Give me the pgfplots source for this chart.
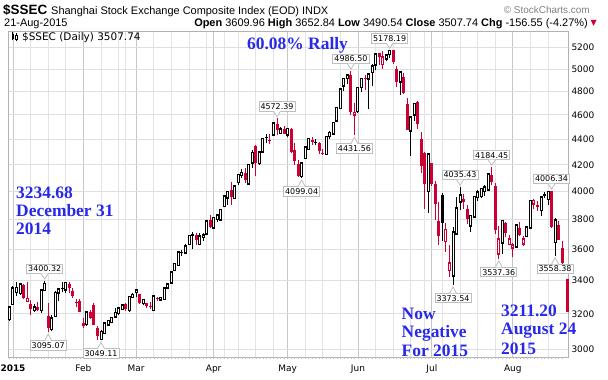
\documentclass[border=0pt]{standalone}
\usepackage{pgfplots}
\pgfplotsset{compat=1.18}
\usepackage{fontspec}
\setmainfont{Liberation Sans}
\newfontfamily\dejavu{DejaVu Sans}
\newfontfamily\tms{Liberation Serif}
\definecolor{cred}{RGB}{204,0,51}
\definecolor{ablue}{RGB}{40,40,232}
\definecolor{tagline}{RGB}{190,190,190}
\pgfplotsset{
 wk/.style={draw=black, line width=1bp},
 wr/.style={draw=cred, line width=1bp},
 hbk/.style={draw=black, line width=3bp, line cap=rect},
 hbr/.style={draw=cred, line width=3bp, line cap=rect},
 fbk/.style={draw=black, line width=3bp, line cap=butt},
 fbr/.style={draw=cred, line width=3bp, line cap=butt},
 hin/.style={draw=white, line width=1bp, line cap=butt},
}
\tikzset{
 tag/.style={draw=tagline, fill=white, line width=0.8bp, font=\dejavu\fontsize{8}{9}\selectfont, inner xsep=1.6bp, inner ysep=1.8bp, text height=6bp, text depth=0bp},
 txt/.style={inner sep=0pt},
 bl/.style={txt, anchor=base west, font=\tms\bfseries\fontsize{17.5}{18}\selectfont, text=ablue},
}
% candles: x, open, high, low, close
\newcommand\kU[5]{\addplot[wk] coordinates {(#1,#4) (#1,#3)};\addplot[hbk] coordinates {(#1,#2) (#1,#5)};\addplot[hin] coordinates {(#1,#2) (#1,#5)};}
\newcommand\kR[5]{\addplot[wr] coordinates {(#1,#4) (#1,#3)};\addplot[hbr] coordinates {(#1,#2) (#1,#5)};\addplot[hin] coordinates {(#1,#2) (#1,#5)};}
\newcommand\kB[5]{\addplot[wk] coordinates {(#1,#4) (#1,#3)};\addplot[fbk] coordinates {(#1,#2) (#1,#5)};}
\newcommand\kD[5]{\addplot[wr] coordinates {(#1,#4) (#1,#3)};\addplot[fbr] coordinates {(#1,#2) (#1,#5)};}
\newcommand\hlab[2]{%
 \coordinate (q) at (axis cs:#1,#2);
 \node[tag, anchor=south] at ([yshift=6.5bp]q) {#2};
 \fill[white] ([xshift=-3.5bp,yshift=7.1bp]q) -- ([yshift=1.5bp]q) -- ([xshift=3.5bp,yshift=7.1bp]q) -- cycle;
 \draw[tagline, line width=0.8bp] ([xshift=-3.5bp,yshift=6.9bp]q) -- ([yshift=1.5bp]q) -- ([xshift=3.5bp,yshift=6.9bp]q);
}
\newcommand\llab[2]{%
 \coordinate (q) at (axis cs:#1,#2);
 \node[tag, anchor=north] at ([yshift=-8bp]q) {#2};
 \fill[white] ([xshift=-3.5bp,yshift=-8.6bp]q) -- ([yshift=-2bp]q) -- ([xshift=3.5bp,yshift=-8.6bp]q) -- cycle;
 \draw[tagline, line width=0.8bp] ([xshift=-3.5bp,yshift=-8.4bp]q) -- ([yshift=-2bp]q) -- ([xshift=3.5bp,yshift=-8.4bp]q);
}
\begin{document}
\begin{tikzpicture}
\path[use as bounding box] (0,0) rectangle (608bp,380bp);
\begin{axis}[
  at={(8bp,23bp)}, anchor=south west,
  scale only axis, width=560bp, height=326bp,
  xmin=-1.42, xmax=157.67,
  ymode=log, ymin=2958, ymax=5361,
  clip=false,
  axis line style={draw=gray!60, line width=0.8bp},
  ytick={3000,3200,3400,3600,3800,4000,4200,4400,4600,4800,5000,5200},
  yticklabels={3000,3200,3400,3600,3800,4000,4200,4400,4600,4800,5000,5200},
  xtick pos=left, ytick pos=right, yticklabel pos=right,
  xtick={0,20,35,57,78,98,119,142},
  xticklabels={\textbf{2015},Feb,Mar,Apr,May,Jun,Jul,Aug},
  minor xtick={5,10,15,25,30,32,40,45,50,55,60,64,69,74,83,88,93,103,108,113,117,122,127,132,137,147,152},
  xmajorgrids=true, xminorgrids=true, ymajorgrids=true,
  major x grid style={draw=gray!45, line width=0.8bp},
  minor x grid style={draw=gray!22, line width=0.8bp},
  major y grid style={draw=gray!25, line width=0.8bp},
  major tick length=0pt, minor tick length=0pt, tick align=outside,
  ticklabel style={font=\dejavu\fontsize{9}{10}\selectfont},
  xticklabel style={anchor=base, yshift=-15bp},
  extra x ticks={-1,0,...,156}, extra x tick labels={},
  extra x tick style={grid=none, major tick length=2bp, tick style={draw=gray!50, line width=0.6bp}},
]
\kU{-1}{3172.56}{3239.36}{3157.56}{3234.68}
\kU{0}{3258.63}{3369.28}{3253.88}{3350.52}
\kU{1}{3330.80}{3394.22}{3303.18}{3351.45}
\kU{2}{3326.65}{3374.90}{3312.21}{3373.95}
\kD{3}{3371.96}{3381.57}{3285.09}{3293.46}
\kR{4}{3276.97}{3390.00}{3267.51}{3285.41}
\kD{5}{3258.21}{3282.27}{3191.26}{3229.32}
\kU{6}{3223.54}{3259.39}{3207.94}{3235.30}
\kD{7}{3242.34}{3268.48}{3214.28}{3222.44}
\kU{8}{3224.07}{3336.64}{3207.55}{3336.45}
\kU{9}{3343.60}{3400.32}{3340.80}{3376.50}
\kD{10}{3189.73}{3262.21}{3095.07}{3116.35}
\kU{11}{3114.56}{3190.25}{3100.48}{3173.05}
\kU{12}{3189.08}{3337.00}{3188.63}{3323.61}
\kU{13}{3327.32}{3352.37}{3273.31}{3343.34}
\kB{14}{3357.10}{3390.00}{3328.29}{3351.76}
\kU{15}{3347.26}{3390.00}{3321.00}{3383.18}
\kD{16}{3377.00}{3391.00}{3325.00}{3352.96}
\kD{17}{3337.00}{3354.00}{3295.00}{3305.74}
\kD{18}{3270.00}{3286.00}{3238.00}{3262.30}
\kD{19}{3273.00}{3288.00}{3209.00}{3210.36}
\kD{20}{3148.00}{3174.00}{3116.00}{3128.30}
\kU{21}{3142.00}{3207.00}{3131.00}{3204.91}
\kD{22}{3212.00}{3223.00}{3171.00}{3174.13}
\kD{23}{3254.00}{3263.00}{3133.00}{3136.53}
\kD{24}{3120.00}{3130.00}{3052.00}{3075.91}
\kU{25}{3059.00}{3105.00}{3049.11}{3095.12}
\kU{26}{3092.00}{3142.00}{3083.00}{3141.59}
\kU{27}{3140.00}{3166.00}{3138.00}{3157.70}
\kU{28}{3155.00}{3180.00}{3145.00}{3173.42}
\kU{29}{3186.00}{3237.00}{3181.00}{3203.83}
\kU{30}{3206.00}{3235.00}{3195.00}{3228.84}
\kU{31}{3231.00}{3250.00}{3226.00}{3246.91}
\kD{32}{3257.00}{3261.00}{3214.00}{3228.84}
\kU{33}{3224.00}{3301.00}{3210.00}{3298.36}
\kU{34}{3300.00}{3324.00}{3294.00}{3310.30}
\kU{35}{3332.00}{3344.00}{3298.00}{3336.28}
\kD{36}{3317.00}{3318.00}{3260.00}{3263.05}
\kU{37}{3264.00}{3286.00}{3250.00}{3279.53}
\kD{38}{3264.00}{3266.00}{3234.00}{3248.48}
\kD{39}{3249.00}{3270.00}{3231.00}{3241.19}
\kU{40}{3225.00}{3304.00}{3215.00}{3302.41}
\kD{41}{3292.00}{3300.00}{3276.00}{3286.07}
\kU{42}{3287.00}{3300.00}{3278.00}{3290.90}
\kU{43}{3290.00}{3352.00}{3283.00}{3349.32}
\kU{44}{3360.00}{3384.00}{3348.00}{3372.91}
\kU{45}{3391.00}{3452.00}{3382.00}{3449.30}
\kU{46}{3467.00}{3504.00}{3459.00}{3502.85}
\kU{47}{3501.00}{3578.00}{3492.00}{3577.30}
\kB{48}{3584.00}{3598.00}{3556.00}{3582.27}
\kU{49}{3580.00}{3632.00}{3568.00}{3617.32}
\kU{50}{3638.00}{3688.00}{3628.00}{3687.73}
\kB{51}{3701.00}{3715.00}{3600.00}{3691.41}
\kD{52}{3692.00}{3706.00}{3627.00}{3660.73}
\kU{53}{3638.00}{3705.00}{3629.00}{3682.09}
\kU{54}{3686.00}{3709.00}{3654.00}{3691.10}
\kU{55}{3708.00}{3795.00}{3708.00}{3786.57}
\kD{56}{3800.00}{3835.00}{3743.00}{3747.90}
\kU{57}{3748.00}{3817.00}{3743.00}{3810.29}
\kU{58}{3805.00}{3835.00}{3785.00}{3825.78}
\kU{59}{3803.00}{3865.00}{3800.00}{3863.93}
\kU{60}{3899.00}{3961.00}{3899.00}{3961.38}
\kU{61}{3960.00}{4000.00}{3900.00}{3994.81}
\kD{62}{4009.00}{4069.00}{3904.00}{3957.53}
\kU{63}{3956.00}{4034.00}{3950.00}{4034.31}
\kU{64}{4072.00}{4128.00}{4049.00}{4121.71}
\kU{65}{4123.00}{4168.00}{4099.00}{4135.56}
\kD{66}{4139.00}{4175.00}{4062.00}{4084.16}
\kU{67}{4060.00}{4195.00}{4046.00}{4194.82}
\kU{68}{4218.00}{4317.00}{4172.00}{4287.30}
\kD{69}{4344.00}{4356.00}{4115.00}{4217.08}
\kU{70}{4214.00}{4302.00}{4200.00}{4293.62}
\kU{71}{4304.00}{4398.00}{4296.00}{4398.49}
\kB{72}{4421.00}{4444.00}{4367.00}{4414.51}
\kD{73}{4395.00}{4440.00}{4359.00}{4393.69}
\kU{74}{4441.00}{4529.00}{4441.00}{4527.40}
\kD{75}{4528.00}{4572.39}{4432.00}{4476.21}
\kU{76}{4453.00}{4499.00}{4441.00}{4476.62}
\kD{77}{4483.00}{4507.00}{4441.00}{4441.66}
\kU{78}{4441.00}{4488.00}{4414.00}{4480.46}
\kD{79}{4479.00}{4489.00}{4293.00}{4298.71}
\kD{80}{4314.00}{4370.00}{4195.00}{4229.27}
\kD{81}{4204.00}{4238.00}{4104.00}{4112.21}
\kU{82}{4115.00}{4216.00}{4099.04}{4205.92}
\kU{83}{4254.00}{4337.00}{4248.00}{4333.58}
\kU{84}{4323.00}{4401.00}{4322.00}{4401.22}
\kD{85}{4395.00}{4414.00}{4355.00}{4375.76}
\kB{86}{4380.00}{4404.00}{4354.00}{4378.31}
\kD{87}{4370.00}{4377.00}{4285.00}{4308.69}
\kD{88}{4291.00}{4319.00}{4275.00}{4283.49}
\kU{89}{4286.00}{4418.00}{4283.00}{4417.55}
\kU{90}{4426.00}{4470.00}{4404.00}{4446.29}
\kU{91}{4449.00}{4529.00}{4431.00}{4529.42}
\kU{92}{4557.00}{4658.00}{4553.00}{4657.60}
\kU{93}{4660.00}{4814.00}{4660.00}{4813.80}
\kU{94}{4854.00}{4911.00}{4802.00}{4910.90}
\kU{95}{4920.00}{4958.00}{4866.00}{4941.71}
\kD{96}{4943.00}{4986.50}{4595.00}{4620.27}
\kR{97}{4603.00}{4698.00}{4431.56}{4611.74}
\kU{98}{4633.00}{4829.00}{4616.00}{4828.74}
\kU{99}{4844.00}{4911.00}{4797.00}{4910.53}
\kD{100}{4924.00}{4951.00}{4811.00}{4909.98}
\kU{101}{4916.00}{4947.00}{4647.00}{4947.10}
\kU{102}{4976.00}{5051.00}{4853.00}{5023.10}
\kU{103}{5045.00}{5147.00}{4988.00}{5131.88}
\kD{104}{5145.00}{5147.00}{5038.00}{5113.53}
\kR{105}{5049.00}{5164.00}{5001.00}{5106.04}
\kU{106}{5101.00}{5130.00}{5071.00}{5121.59}
\kU{107}{5143.00}{5178.19}{5100.00}{5166.35}
\kD{108}{5174.00}{5176.00}{5048.00}{5062.99}
\kD{109}{5004.00}{5029.00}{4842.00}{4887.43}
\kU{110}{4890.00}{4985.00}{4767.00}{4967.90}
\kD{111}{4930.00}{4967.00}{4782.00}{4785.36}
\kD{112}{4689.00}{4744.00}{4476.00}{4478.36}
\kU{113}{4471.00}{4577.00}{4264.00}{4576.49}
\kU{114}{4605.00}{4691.00}{4552.00}{4690.15}
\kD{115}{4711.00}{4720.00}{4483.00}{4527.78}
\kD{116}{4399.00}{4456.00}{4139.00}{4192.87}
\kD{117}{4289.00}{4297.00}{3875.00}{4053.03}
\kU{118}{4006.00}{4287.00}{3847.00}{4277.22}
\kD{119}{4214.00}{4214.00}{4043.00}{4053.70}
\kD{120}{4058.00}{4080.00}{3795.00}{3912.77}
\kD{121}{3793.00}{3927.00}{3629.00}{3686.92}
\kB{122}{3975.00}{3990.00}{3653.00}{3775.91}
\kR{123}{3655.00}{3780.00}{3581.00}{3727.12}
\kR{124}{3467.00}{3629.00}{3421.00}{3507.19}
\kU{125}{3433.00}{3748.00}{3373.54}{3709.33}
\kU{126}{3707.00}{3959.00}{3707.00}{3877.80}
\kU{127}{3930.00}{4035.43}{3870.00}{3970.39}
\kD{128}{3947.00}{3981.00}{3878.00}{3924.49}
\kD{129}{3878.00}{3907.00}{3767.00}{3805.70}
\kU{130}{3760.00}{3836.00}{3712.00}{3823.18}
\kU{131}{3823.00}{3959.00}{3823.00}{3957.35}
\kU{132}{3961.00}{4013.00}{3930.00}{3992.11}
\kU{133}{3971.00}{4026.00}{3950.00}{4017.67}
\kU{134}{4005.00}{4047.00}{3970.00}{4026.04}
\kU{135}{4017.00}{4132.00}{4006.00}{4123.92}
\kD{136}{4125.00}{4184.45}{4044.00}{4070.91}
\kD{137}{4041.00}{4062.00}{3701.00}{3725.56}
\kR{138}{3573.00}{3757.00}{3537.36}{3663.00}
\kU{139}{3645.00}{3792.00}{3567.00}{3789.17}
\kD{140}{3778.00}{3785.00}{3679.00}{3705.77}
\kR{141}{3637.00}{3695.00}{3629.00}{3663.73}
\kR{142}{3614.00}{3640.00}{3549.00}{3622.91}
\kU{143}{3621.00}{3757.00}{3610.00}{3756.54}
\kD{144}{3745.00}{3782.00}{3688.00}{3694.57}
\kR{145}{3640.00}{3690.00}{3621.00}{3661.54}
\kU{146}{3690.00}{3750.00}{3686.00}{3744.20}
\kU{147}{3748.00}{3928.00}{3748.00}{3928.42}
\kR{148}{3915.00}{3943.00}{3871.00}{3927.91}
\kD{149}{3903.00}{3935.00}{3861.00}{3886.32}
\kU{150}{3869.00}{3955.00}{3826.00}{3954.56}
\kB{151}{3979.00}{3997.00}{3954.00}{3965.33}
\kU{152}{3948.00}{3994.00}{3906.00}{3993.67}
\kD{153}{4000.00}{4006.34}{3743.00}{3748.16}
\kU{154}{3649.00}{3811.00}{3558.38}{3794.11}
\kD{155}{3765.00}{3790.00}{3662.00}{3664.29}
\kD{156}{3609.96}{3652.84}{3490.54}{3507.74}
\addplot[fbr] coordinates {(157.4,3410) (157.4,3211.20)};
\hlab{9}{3400.32}
\llab{10}{3095.07}
\llab{25}{3049.11}
\hlab{75}{4572.39}
\llab{82}{4099.04}
\hlab{96}{4986.50}
\llab{97}{4431.56}
\hlab{107}{5178.19}
\llab{125}{3373.54}
\hlab{127}{4035.43}
\hlab{136}{4184.45}
\llab{138}{3537.36}
\hlab{153}{4006.34}
\llab{154}{3558.38}
\end{axis}
% header
\node[txt, anchor=base west, font=\bfseries\fontsize{13.5}{14}\selectfont] at (3bp,365bp) {\$SSEC};
\node[txt, anchor=base west, font=\fontsize{11}{12}\selectfont] at (51bp,365bp) {Shanghai Stock Exchange Composite Index (EOD) INDX};
\node[txt, anchor=base east, font=\fontsize{10}{12}\selectfont, text=gray] at (590bp,366bp) {© StockCharts.com};
\node[txt, anchor=base west, font=\fontsize{11}{12}\selectfont] at (4bp,353bp) {21-Aug-2015};
\node[txt, anchor=base east, font=\fontsize{11}{12}\selectfont] at (588bp,353bp) {\textbf{Open} 3609.96 \textbf{High} 3652.84 \textbf{Low} 3490.54 \textbf{Close} 3507.74 \textbf{Chg} -156.55 (-4.27\%)};
\node[txt, anchor=base west, font=\dejavu\fontsize{8}{9}\selectfont, text=cred] at (590.5bp,354bp) {▼};
% legend line inside
\fill[black] (11.5bp,341bp) rectangle (13.5bp,346bp);
\draw[black, line width=0.7bp] (12.5bp,339.5bp) -- (12.5bp,347.5bp);
\draw[black, line width=0.7bp] (15.5bp,340.5bp) rectangle (17.5bp,345bp);
\draw[black, line width=0.7bp] (16.5bp,338.5bp) -- (16.5bp,340.5bp) (16.5bp,345bp) -- (16.5bp,347bp);
\node[txt, anchor=base west, font=\dejavu\fontsize{10.5}{12}\selectfont] at (22bp,339bp) {\$SSEC (Daily) 3507.74};
% annotations
\node[bl] at (247bp,330.5bp) {60.08\% Rally};
\node[bl] at (16bp,181.7bp) {3234.68};
\node[bl] at (16bp,163.3bp) {December 31};
\node[bl] at (16bp,145bp) {2014};
\node[bl] at (401.5bp,60.7bp) {Now};
\node[bl] at (401.5bp,42.7bp) {Negative};
\node[bl] at (401.5bp,24bp) {For 2015};
\node[bl] at (501bp,63.3bp) {3211.20};
\node[bl] at (501bp,45bp) {August 24};
\node[bl] at (501bp,26bp) {2015};
\end{tikzpicture}
\end{document}
